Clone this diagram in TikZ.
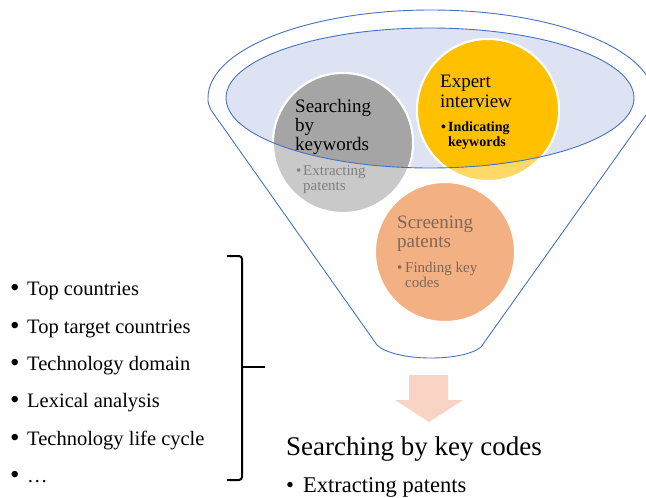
\documentclass[tikz,border=0pt]{standalone}
\usepackage{fontspec}
\setmainfont{Liberation Serif}
\definecolor{funnelblue}{HTML}{4472C4}
\definecolor{lav}{HTML}{DDE3F2}
\definecolor{grayD}{HTML}{A5A5A5}
\definecolor{grayL}{HTML}{C9C9C9}
\definecolor{yelD}{HTML}{FFC000}
\definecolor{yelL}{HTML}{FFD966}
\definecolor{orng}{HTML}{F3B083}
\definecolor{orngtxt}{HTML}{7D675A}
\definecolor{pinkarrow}{HTML}{F9D4C4}
\newcommand{\bigbul}{\makebox[17pt][l]{\raisebox{-1.6pt}{\fontsize{27}{27}\selectfont •}}}
\begin{document}
\begin{tikzpicture}[x=1pt,y=-1pt,
  funnel/.style={draw=funnelblue, line width=0.9pt},
  bubble/.style={circle, minimum size=140pt, inner sep=0pt, draw=white, line width=2pt},
  txt/.style={anchor=base west, inner sep=0pt},
  head/.style={txt, font=\fontsize{19}{19}\selectfont},
  sub/.style={txt, font=\fontsize{15}{15}\selectfont},
  lst/.style={txt, font=\fontsize{20.5}{20.5}\selectfont},
]
\useasboundingbox (0,0) rectangle (646,498);

% funnel: rim (upper half of outer ellipse) and sides
\draw[funnel] (208,98) arc [start angle=180, end angle=0, x radius=223pt, y radius=88pt];
\draw[funnel] (208,98) .. controls (208,103) .. (211,110) -- (377,345) .. controls (395,362) and (463,362) .. (481,347) -- (651,108) .. controls (654,103) .. (654,98);
\fill[lav] (430,98) ellipse [x radius=204pt, y radius=70pt];

% bubbles (light parts)
\node[bubble, fill=grayL] (kw) at (343,143) {};
\node[bubble, fill=yelL, minimum size=142pt] (ex) at (488,110) {};
\node[bubble, fill=orng] (sc) at (445,252) {};

% bubbles (parts inside the inner ellipse)
\begin{scope}
  \clip (430,98) ellipse [x radius=204pt, y radius=70pt];
  \fill[grayD, draw=white, line width=2pt] (kw.center) circle [radius=70pt];
  \fill[yelD, draw=white, line width=2pt] (ex.center) circle [radius=71pt];
\end{scope}
\draw[funnel] (430,98) ellipse [x radius=204pt, y radius=70pt];

% texts in bubbles
\node[head] (kw1) at (295,112) {Searching};
\node[head] (kw2) at (295,131) {by};
\node[head] (kw3) at (295,150) {keywords};
\node[sub, text=gray] (kw4) at (296,175) {\makebox[7pt][l]{•}Extracting};
\node[sub, text=gray] (kw5) at (303,190) {patents};

\node[head] (ex1) at (440,87) {Expert};
\node[head] (ex2) at (440,107) {interview};
\node[sub, font=\fontsize{14}{14}\selectfont\bfseries] (ex3) at (441,131) {\makebox[7pt][l]{•}Indicating};
\node[sub, font=\fontsize{14}{14}\selectfont\bfseries] (ex4) at (448,146) {keywords};

\node[head, text=orngtxt] (sc1) at (397,228) {Screening};
\node[head, text=orngtxt] (sc2) at (397,247) {patents};
\node[sub, text=orngtxt] (sc3) at (397,272) {\makebox[8pt][l]{•}Finding key};
\node[sub, text=orngtxt] (sc4) at (405,287) {codes};

% arrow
\fill[pinkarrow] (409,375) -- (448,375) -- (448,400) -- (463,400) -- (429,422) -- (395,400) -- (409,400) -- cycle;

% result text
\node[txt, font=\fontsize{27}{27}\selectfont] (res1) at (286,455) {Searching by key codes};
\node[txt, font=\fontsize{22.5}{22.5}\selectfont] (res2) at (286,492) {\makebox[17pt][l]{•}Extracting patents};

% list
\node[lst] (l1) at (10,295) {\bigbul Top countries};
\node[lst] (l2) at (10,333) {\bigbul Top target countries};
\node[lst] (l3) at (10,370) {\bigbul Technology domain};
\node[lst] (l4) at (10,407) {\bigbul Lexical analysis};
\node[lst] (l5) at (10,445) {\bigbul Technology life cycle};
\node[lst] (l6) at (10,482) {\bigbul …};

% bracket
\coordinate (bt) at (242,256);
\coordinate (bb) at (242,480);
\coordinate (bm) at (242,367);
\coordinate (bx) at (265,367);
\draw[line width=2pt, rounded corners=3pt] (227,256) -- (bt) -- (bb) -- (227,480);
\draw[line width=2pt] (bm) -- (bx);
\end{tikzpicture}
\end{document}
